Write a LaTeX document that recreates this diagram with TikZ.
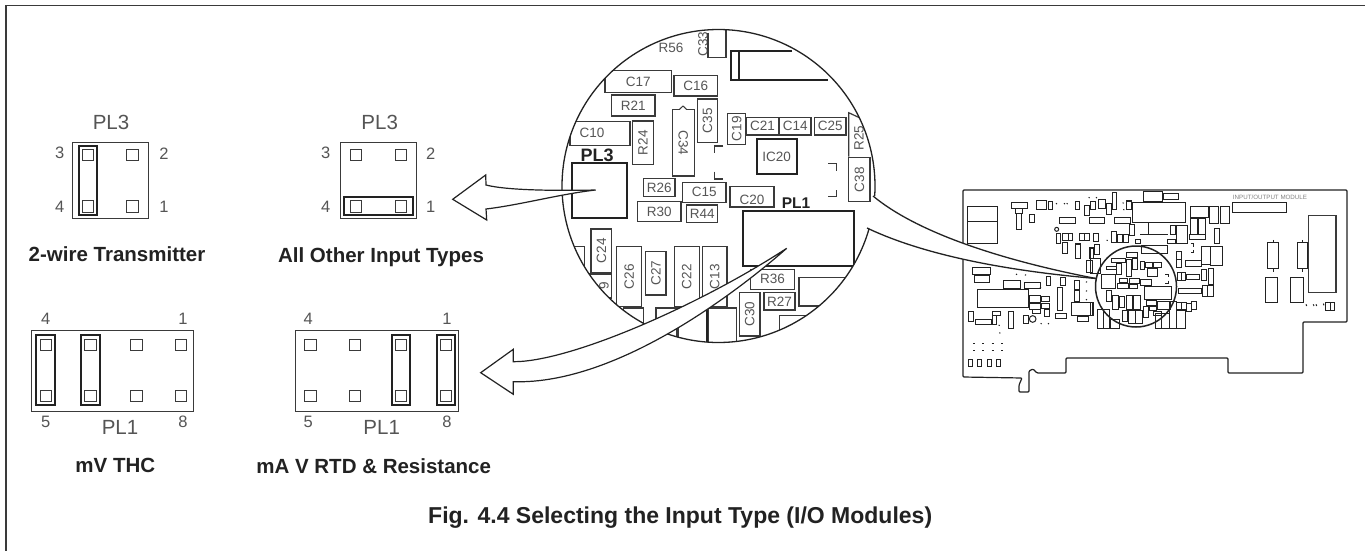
\documentclass[tikz,border=0pt]{standalone}
\usepackage{fontspec}
\setmainfont{Liberation Sans}
\definecolor{ink}{HTML}{222222}
\definecolor{soft}{HTML}{555555}
\definecolor{pcb}{HTML}{3A3A3A}
\tikzset{
  smalltext/.style={text=soft,inner sep=0pt,font=\fontsize{13.5}{14}\selectfont},
  pintext/.style={text=soft,inner sep=0pt,font=\fontsize{16.5}{17}\selectfont},
  pltext/.style={text=soft,inner sep=0pt,font=\fontsize{20.5}{21}\selectfont},
  boldtext/.style={text=ink,inner sep=0pt,font=\bfseries\fontsize{20.5}{21}\selectfont},
  captiontext/.style={text=ink,inner sep=0pt,font=\bfseries\fontsize{23}{24}\selectfont},
  plbold/.style={text=ink,inner sep=0pt,font=\bfseries\fontsize{15.5}{16}\selectfont},
  plboldlarge/.style={text=ink,inner sep=0pt,font=\bfseries\fontsize{18}{19}\selectfont},
  compbox/.style={draw=pcb,line width=1.2pt},
  thickbox/.style={draw=ink,line width=2pt},
  plate/.style={draw=pcb,line width=0.9pt},
  jumper/.style={draw=ink,line width=1.7pt},
  pin/.style={draw=pcb,line width=0.9pt},
  tiny/.style={draw=ink,line width=1pt},
  boardline/.style={draw=ink,line width=1.2pt,rounded corners=1pt},
  pointer/.style={draw=ink,fill=white,line width=1.2pt,line join=miter},
  leader/.style={draw=ink,line width=1.3pt},
}
\newcommand{\pinsq}[2]{\draw[pin] (#1-5.7,#2-5.7) rectangle (#1+5.7,#2+5.7);}
\begin{document}
\begin{tikzpicture}[x=1pt,y=-1pt]
\useasboundingbox (0,0) rectangle (1365,551);
\fill[white] (0,0) rectangle (1365,551);
% frame
\draw[draw=pcb,line width=1.3pt] (6,551) -- (6,5.7) -- (1365,5.7);

% ---------- PL3 left
\node[pltext] (plA) at (111,122.7) {PL3};
\draw[plate] (72.7,142.7) rectangle (148.3,218.3);
\foreach \p/\q in {88/155.2,132.5/155.2,88/206.5,132.5/206.5} {\pinsq{\p}{\q}}
\draw[jumper] (79,145.7) rectangle (97,215.3);
\node[pintext] (a3) at (59.7,153.3) {3};
\node[pintext] (a2) at (164,153.3) {2};
\node[pintext] (a4) at (59.7,207.3) {4};
\node[pintext] (a1) at (164,207.3) {1};
\node[boldtext] (capA) at (117,254) {2-wire Transmitter};

% ---------- PL3 right
\node[pltext] (plB) at (379.7,122.7) {PL3};
\draw[plate] (340.7,142.7) rectangle (416.3,218.3);
\foreach \p/\q in {356/155.2,401/155.2,356/206.5,401/206.5} {\pinsq{\p}{\q}}
\draw[jumper] (343.7,196.7) rectangle (413.3,215.3);
\node[pintext] (b3) at (325.7,153.3) {3};
\node[pintext] (b2) at (430.7,153.3) {2};
\node[pintext] (b4) at (325.7,207.3) {4};
\node[pintext] (b1) at (430.7,207.3) {1};
\node[boldtext] (capB) at (381,256.7) {All Other Input Types};

% ---------- PL1 left
\draw[plate] (31.3,330.7) rectangle (193.3,411.3);
\foreach \p in {46,90.3,136.3,181} {\pinsq{\p}{345}\pinsq{\p}{395.7}}
\draw[jumper] (36.3,335.3) rectangle (55,404.7);
\draw[jumper] (81,335.3) rectangle (99.7,404.7);
\node[pintext] (c4) at (45.7,319.3) {4};
\node[pintext] (c1) at (183,319.3) {1};
\node[pintext] (c5) at (45.7,421.7) {5};
\node[pintext] (c8) at (183,421.7) {8};
\node[pltext] (plC) at (120,427.3) {PL1};
\node[boldtext] (capC) at (115.3,465.7) {mV THC};

% ---------- PL1 right
\draw[plate] (295.7,330.7) rectangle (458.3,411.3);
\foreach \p in {310.3,355,401,445.7} {\pinsq{\p}{345}\pinsq{\p}{395.7}}
\draw[jumper] (392,335.3) rectangle (410.3,404.7);
\draw[jumper] (436.7,335.3) rectangle (455.3,404.7);
\node[pintext] (d4) at (308.3,319.3) {4};
\node[pintext] (d1) at (447,319.3) {1};
\node[pintext] (d5) at (308.3,421.7) {5};
\node[pintext] (d8) at (447,421.7) {8};
\node[pltext] (plD) at (381.7,427.3) {PL1};
\node[boldtext] (capD) at (373.7,465.7) {mA V RTD \& Resistance};

% caption
\node[captiontext,anchor=west] (caption) at (428,518) {Fig. 4.4 Selecting the Input Type (I/O Modules)};

% ---------- board outline
\draw[boardline] (963,190) -- (1347,190) -- (1347,322) -- (1303,322) -- (1303,373) -- (1228,373) -- (1228,358) -- (1066,358) -- (1066,373) -- (1037,373) -- (1033,369) -- (1029,371) -- (1029,392) -- (1019,392) -- (1019,385) -- (1022,378) -- (963,377) -- cycle;

% board parts (crop coordinates at 3x)
\begin{scope}[xshift=950pt,yshift=-170pt,x=0.3333pt,y=-0.3333pt]
\foreach \a/\b/\c/\d in {
52/110/143/222,185/97/232/117,197/117/218/130,200/132/215/180,239/135/253/158,
259/92/288/118,295/95/308/118,375/95/388/118,403/107/418/138,422/95/436/118,
445/88/467/115,470/100/484/133,487/68/500/118,530/95/545/118,
328/143/375/160,418/143/465/160,494/143/541/160,
320/190/332/222,336/190/355/213,355/190/368/213,388/190/403/213,403/190/418/213,
430/190/445/215,486/185/500/217,503/193/517/217,520/193/535/217,538/165/553/198,
337/217/351/250,418/233/430/265,433/223/448/255,410/273/427/307,
288/320/301/347,330/323/345/347,
68/292/120/315,73/317/117/337,160/333/212/357,222/338/270/357,83/360/235/412,
238/378/272/397,238/400/272/418,275/380/298/395,275/402/298/415,283/418/298/440,248/420/270/432,
322/352/337/422,315/430/348/445,373/333/388/360,373/362/388/395,363/398/428/438,383/440/415/456,
55/425/71/455,75/450/125/463,127/425/150/437,127/437/140/463,175/425/190/475,220/438/235/462,
55/568/68/590,82/568/95/590,112/568/125/590,138/568/152/590}
  {\draw[tiny] (\a,\b) rectangle (\c,\d);}
\draw[tiny] (52,155) -- (143,155);
\draw[tiny,line width=1.6pt] (376,222) rectangle (391,265);
\draw[tiny] (320,178) circle (6);
\draw[tiny] (248,447) circle (10);
\foreach \a in {72,100,128,157} {\foreach \b in {520,543} {\draw[tiny] (\a-3,\b) -- (\a+3,\b);}}
\foreach \a/\b in {318/100,342/100,350/100,416/82,438/82,518/98,520/118,470/210,198/312,225/314,270/352,408/335,408/362,408/388,146/465,148/488,272/460,294/460}
  {\draw[tiny] (\a,\b) -- ++(3,2);}
\end{scope}

\begin{scope}[xshift=1120pt,yshift=-170pt,x=0.3333pt,y=-0.3333pt]
\foreach \a/\b/\c/\d in {
38/97/195/157,70/65/127/95,130/72/175/90,
210/110/265/143,268/110/295/162,302/110/327/162,212/145/232/193,235/145/255/193,207/195/257/210,
282/177/298/220,245/230/272/283,272/230/307/287,264/295/281/345,245/298/260/332,
247/347/263/380,263/347/280/380,175/355/245/372,195/273/243/290,200/313/237/330,
172/307/183/332,183/307/197/332,170/245/184/268,170/270/184/292,
152/168/166/193,168/166/202/222,142/208/165/222,28/165/44/198,45/210/60/222,
65/228/143/250,
337/97/500/128,443/218/475/295,532/218/563/295,436/323/473/397,513/323/550/397,
617/397/631/421,631/397/645/421,
20/93/35/118,
107/432/125/475,125/432/147/475,147/395/170/475,170/420/195/475,
168/397/183/421,183/397/198/421,198/400/213/424,214/395/229/420}
  {\draw[tiny] (\a,\b) rectangle (\c,\d);}
\draw[tiny,line width=1.5pt,draw=pcb] (566,137) rectangle (648,367);
\draw[tiny,line width=1.6pt] (85,157) -- (85,193);
\draw[tiny] (60,193) -- (143,193);
\draw[tiny] (459,210) -- (459,218) (459,295) -- (459,305) (547,210) -- (547,218) (547,295) -- (547,305);
\foreach \a/\b in {558/403,580/403,588/403,610/401}{\draw[tiny] (\a,\b) -- ++(2,5);}
\draw[tiny] (212,222) -- (221,222) -- (221,230) (221,240) -- (221,248) -- (212,248);
\node[text=gray,inner sep=0pt,font=\fontsize{6.2}{7}\selectfont] (iomod) at (450,82) {INPUT/OUTPUT MODULE};
\end{scope}

% parts in and under the small circle
\begin{scope}[xshift=1090pt,yshift=-180pt,x=0.3333pt,y=-0.3333pt]
\foreach \a/\b/\c/\d in {
33/283/75/325,110/240/125/290,127/235/143/270,65/235/105/248,110/218/143/232,80/250/95/283,
50/260/78/270,150/245/163/268,165/248/188/262,190/248/215/262,172/265/203/290,
88/295/112/308,118/295/148/312,150/300/185/316,82/312/115/327,118/315/143/327,163/320/245/360,
50/332/65/365,68/348/85/390,88/350/103/382,110/346/128/390,130/346/150/390,168/362/200/378,
160/380/175/412,178/380/200/392,190/395/215/408,97/392/113/425,115/392/135/430,135/392/157/432,203/365/240/388,
22/390/40/445,40/390/58/445,62/420/88/445,0/368/10/408,
0/205/10/235,12/195/28/225,0/235/30/280}
  {\draw[tiny] (\a,\b) rectangle (\c,\d);}
\draw[tiny] (225,285) -- (235,285) -- (235,292) (235,302) -- (235,310) -- (225,310);
\end{scope}

% wedge between the two circles
\coordinate (wa) at (873,196);
\coordinate (wb) at (867,228);
\coordinate (wc) at (1096,278.5);
\fill[white] (wa) .. controls (920,235) and (1010,262) .. (wc) .. controls (1020,272) and (930,258) .. (wb) -- cycle;
\draw[leader] (wa) .. controls (920,235) and (1010,262) .. (wc);
\draw[leader] (wb) .. controls (930,258) and (1020,272) .. (wc);

% small circle
\node[draw=ink,line width=1.5pt,circle,minimum size=81pt,inner sep=0pt] (smallc) at (1136,286.5) {};

% ---------- enlarged circle content
\begin{scope}
\clip (718.5,186) circle (156.5pt);
\foreach \a/\b/\c/\d/\t/\r [count=\i] in {
605/70.7/671.7/92.3/C17/0, 674/75.7/717.7/96/C16/0, 611.7/95/655/116/R21/0,
570/121.7/630/145.7/{}/0, 632.7/121/653.3/164.3/R24/90, 672.3/109.3/694.3/176/C34/-90,
697.3/99/717.7/142.3/C35/90, 727.7/113.3/745.7/144.3/C19/90,
746.7/117.3/778.3/135/C21/0, 779.3/117.3/811/135/C14/0, 814.3/117.3/846/135/C25/0,
848.7/157.7/870/201.7/C38/90,
682.7/182.3/726/202.3/C15/0, 730/186.7/774/207/{}/0,
643.3/178.3/675/196.7/R26/0, 637.7/201.7/681/221.7/R30/0, 686.7/205/717.7/222.3/R44/0,
591/229/611.7/272.3/C24/90, 616.7/246.7/641.7/306.7/C26/90, 645.7/251.7/666/295/C27/90,
674.3/246.7/699.3/306.7/C22/90, 702.3/246.7/727/306.7/C13/90,
750.7/269.3/794.3/289.3/R36/0, 764/292.7/795/310/R27/0, 739.3/292.7/760/336/C30/90,
799/277.3/845/306/{}/0, 550/246.7/584.3/272/{}/0, 570/274/611.7/298/{}/0,
623.3/308/643.3/345/{}/0, 656/308/676.7/345/{}/0, 678/308/706.7/345/{}/0, 708.3/308/736.7/345/{}/0,
779.3/315.7/810/345/{}/0}
  {\draw[compbox] (\a,\b) rectangle (\c,\d);
   \node[smalltext,rotate=\r] (comp\i) at ({(\a+\c)/2},{(\b+\d)/2}) {\t};}
\node[smalltext] (c10) at (592,133) {C10};
\node[smalltext] (c20) at (752,199.5) {C20};
\node[smalltext] (r56) at (671,48) {R56};
\node[smalltext,rotate=90] (r25) at (859,138) {R25};
\draw[compbox] (848.7,156.7) -- (848.7,112.7) -- (860,118) -- (880,118);
\node[smalltext,rotate=90] (c9) at (604,286) {9};
\begin{scope}
  \clip (690,33) rectangle (730,60);
  \node[smalltext,rotate=90] (c33) at (703,44) {C33};
\end{scope}
\draw[compbox] (708,33) -- (708,57.7) -- (726,57.7) -- (726,30);
% notch of C34
\draw[white,line width=2pt] (680,109.3) -- (686,109.3);
\draw[compbox,line width=1pt] (679.5,109.3) -- (683,106) -- (686.5,109.3);
% heavy parts
\draw[thickbox] (571.7,163.3) rectangle (626.7,218.3);
\draw[thickbox] (743.3,211) rectangle (854,265.7);
\draw[thickbox] (756.7,139) rectangle (796.7,174.3);
\node[smalltext] (ic20) at (776.7,157) {IC20};
\draw[thickbox] (792,51) -- (731,51) -- (731,80) -- (828,80);
\draw[thickbox] (739,51) -- (739,80);
\draw[thickbox] (706.7,308) -- (706.7,345);
% corner marks
\draw[compbox] (723.3,146) -- (714.3,146) -- (714.3,153.3);
\draw[compbox] (714.3,171.7) -- (714.3,179) -- (723.3,179);
\draw[compbox] (828.3,163.3) -- (836.7,163.3) -- (836.7,170.7);
\draw[compbox] (836.7,190) -- (836.7,196.7) -- (828.3,196.7);
\end{scope}
\node[plboldlarge] (pl3b) at (597,155) {PL3};
\node[plbold] (pl1b) at (796,202.7) {PL1};

% enlarged circle outline with the gap at the wedge
\draw[leader] plot[domain=15.8:363.7,samples=220] ({718.5+156.5*cos(\x)},{186+156.5*sin(\x)});

% big arrows
\draw[pointer] (452.7,199.3) -- (485.7,175) -- (486,185) .. controls (505,190) and (550,191) .. (595.7,190) .. controls (560,194) and (520,205) .. (486,209) -- (486.7,220) -- cycle;
\draw[pointer] (480.7,372.7) -- (513.3,349.3) -- (513.3,361.7) .. controls (570,362) and (700,305) .. (786.7,248.3) .. controls (745,285) and (620,385) .. (513.3,381.7) -- (513.3,394.3) -- cycle;
\end{tikzpicture}
\end{document}
